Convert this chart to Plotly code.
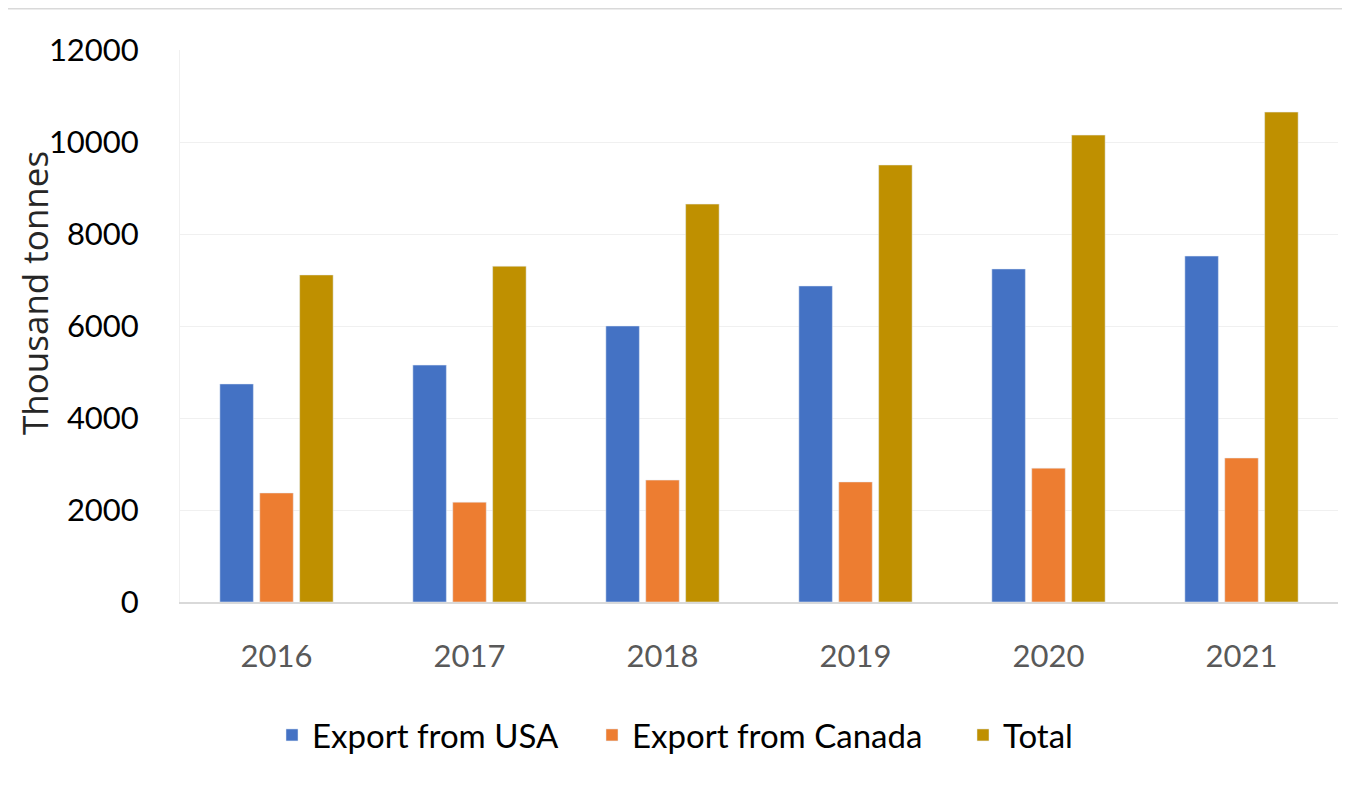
import plotly.graph_objects as go

years = ["2016", "2017", "2018", "2019", "2020", "2021"]
usa = [4740, 5150, 6000, 6870, 7240, 7520]
canada = [2370, 2170, 2650, 2610, 2910, 3130]
total = [7110, 7300, 8650, 9500, 10150, 10650]

fig = go.Figure()
fig.add_bar(x=years, y=usa, name="Export from USA", marker_color="#4472C4", legend="legend")
fig.add_bar(x=years, y=canada, name="Export from Canada", marker_color="#ED7D31", legend="legend2")
fig.add_bar(x=years, y=total, name="Total", marker_color="#BF9000", legend="legend3")

W, H = 1350, 785
OFF = 8  # page body offset
ML, MR, MT, MB = 180 - OFF, 12 + OFF, 50 - OFF, 183 + OFF


def leg(xpage):
    return dict(orientation="h", xref="container", x=(xpage - OFF) / W, xanchor="left",
                yref="container", y=1 - (735 - OFF) / H, yanchor="middle",
                font=dict(size=33, color="black"), bgcolor="rgba(0,0,0,0)")


fig.update_layout(
    width=W, height=H,
    margin=dict(l=ML, r=MR, t=MT, b=MB, autoexpand=False),
    paper_bgcolor="white", plot_bgcolor="white",
    barmode="group", bargap=0.38, bargroupgap=0.16,
    font=dict(family="Lato, Open Sans, sans-serif"),
    legend=leg(272), legend2=leg(592), legend3=leg(963),
    showlegend=True,
)
fig.update_xaxes(showline=True, linecolor="#d9d9d9", linewidth=2,
                 tickfont=dict(size=31, color="#595959"),
                 ticks="", ticklabelstandoff=26, automargin=False)
fig.update_yaxes(range=[0, 12000], dtick=2000, tickformat="d", showgrid=True,
                 gridcolor="#f0f0f0", gridwidth=1,
                 showline=True, linecolor="#f0f0f0", linewidth=1,
                 zeroline=False, automargin=False,
                 tickfont=dict(size=31, color="black"),
                 ticklabelstandoff=34)
PW = W - ML - MR
PH = H - MT - MB
fig.add_annotation(text="Thousand tonnes", textangle=-90,
                   xref="paper", yref="paper",
                   x=-(180 - 34) / PW, y=(602 - 293) / PH,
                   xanchor="center", yanchor="middle", showarrow=False,
                   borderpad=0,
                   font=dict(size=35, color="#262626", family="Open Sans, sans-serif"))
fig.add_shape(type="line", xref="paper", yref="paper",
              x0=-0.2, x1=1.05, y0=(602 - 8) / PH, y1=(602 - 8) / PH,
              line=dict(color="#d9d9d9", width=3))
fig.write_html("out.html")
